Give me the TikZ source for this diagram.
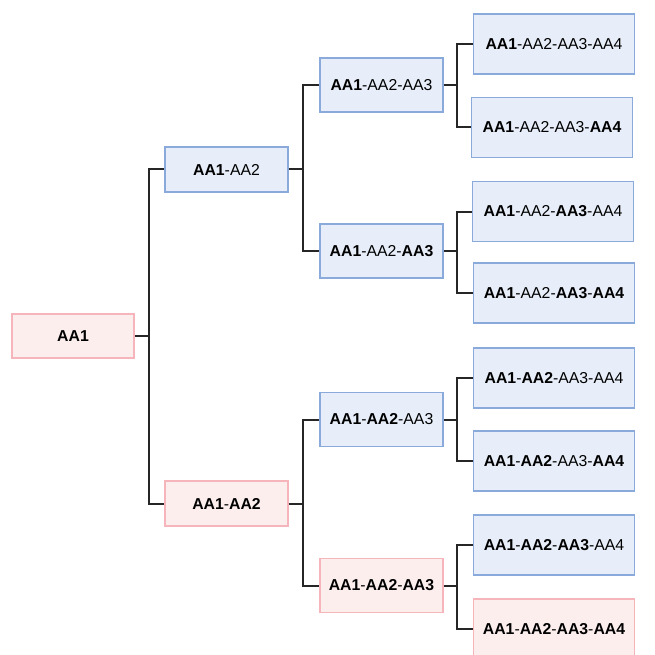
\documentclass[tikz,border=0pt]{standalone}
\usepackage{fontspec}
\setmainfont{Liberation Sans}
\usepackage{tikz}
\definecolor{bluefill}{HTML}{E7EEF9}
\definecolor{blueline}{HTML}{89AADA}
\definecolor{redfill}{HTML}{FDEEEE}
\definecolor{redline}{HTML}{F5B5BA}
\tikzset{
  box/.style={draw,line width=1.9pt,inner sep=0pt,font=\fontsize{15.8}{18}\selectfont},
  bluebox/.style={box,draw=blueline,fill=bluefill},
  redbox/.style={box,draw=redline,fill=redfill},
  lv1/.style={minimum width=122pt,minimum height=44pt},
  lv2/.style={minimum width=123pt,minimum height=45pt},
  lv3/.style={minimum width=123pt,minimum height=54pt},
  lv4/.style={minimum width=161pt,minimum height=60pt},
  elbow/.style={line width=2pt,black!85}
}
\newcommand{\bo}[1]{\textbf{#1}}

\begin{document}
\begin{tikzpicture}[x=1pt,y=-1pt]
\useasboundingbox (0,0) rectangle (654,655);
\clip (0,0) rectangle (654,655);

% root and second level
\node[redbox,lv1] (aa1) at (73,336) {\bo{AA1}};
\node[bluebox,lv2] (aa2a) at (226.5,169.5) {\bo{AA1}-AA2};
\node[redbox,lv2] (aa2b) at (226.5,503.5) {\bo{AA1}-\bo{AA2}};

% third level
\node[bluebox,lv3] (aa3a) at (381.5,85) {\bo{AA1}-AA2-AA3};
\node[bluebox,lv3] (aa3b) at (381.5,251) {\bo{AA1}-AA2-\bo{AA3}};
\node[bluebox,lv3] (aa3c) at (381.5,419.5) {\bo{AA1}-\bo{AA2}-AA3};
\node[redbox,lv3] (aa3d) at (381.5,585.5) {\bo{AA1}-\bo{AA2}-\bo{AA3}};

% fourth level
\node[bluebox,lv4] (aa4a) at (554,44) {\bo{AA1}-AA2-AA3-AA4};
\node[bluebox,lv4] (aa4b) at (552,127.5) {\bo{AA1}-AA2-AA3-\bo{AA4}};
\node[bluebox,lv4] (aa4c) at (553,211.5) {\bo{AA1}-AA2-\bo{AA3}-AA4};
\node[bluebox,lv4] (aa4d) at (554,293) {\bo{AA1}-AA2-\bo{AA3}-\bo{AA4}};
\node[bluebox,lv4] (aa4e) at (554,378) {\bo{AA1}-\bo{AA2}-AA3-AA4};
\node[bluebox,lv4] (aa4f) at (554,461) {\bo{AA1}-\bo{AA2}-AA3-\bo{AA4}};
\node[bluebox,lv4] (aa4g) at (554,545) {\bo{AA1}-\bo{AA2}-\bo{AA3}-AA4};
\node[redbox,lv4] (aa4h) at (554,629) {\bo{AA1}-\bo{AA2}-\bo{AA3}-\bo{AA4}};

% connectors
\foreach \p/\a/\b/\d in {aa1/aa2a/aa2b/14, aa2a/aa3a/aa3b/14, aa2b/aa3c/aa3d/14,
  aa3a/aa4a/aa4b/13, aa3b/aa4c/aa4d/13, aa3c/aa4e/aa4f/13, aa3d/aa4g/aa4h/13}
{
  \draw[elbow] (\p.east) -- ++(\d,0) coordinate (j);
  \draw[elbow] (\a.west) -| (j) |- (\b.west);
}
\end{tikzpicture}
\end{document}
